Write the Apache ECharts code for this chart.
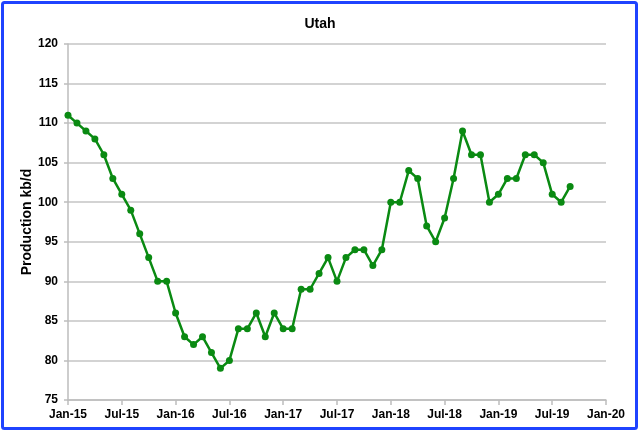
<!DOCTYPE html>
<html>
<head>
<meta charset="utf-8">
<script src="https://cdn.jsdelivr.net/npm/echarts@6/dist/echarts.min.js"></script>
<style>html,body{margin:0;padding:0;background:#fff;}#c{width:640px;height:433px;}</style>
</head>
<body>
<div id="c"></div>
<script>
const months = [
  'Jan-15','Feb-15','Mar-15','Apr-15','May-15','Jun-15','Jul-15','Aug-15','Sep-15','Oct-15','Nov-15','Dec-15',
  'Jan-16','Feb-16','Mar-16','Apr-16','May-16','Jun-16','Jul-16','Aug-16','Sep-16','Oct-16','Nov-16','Dec-16',
  'Jan-17','Feb-17','Mar-17','Apr-17','May-17','Jun-17','Jul-17','Aug-17','Sep-17','Oct-17','Nov-17','Dec-17',
  'Jan-18','Feb-18','Mar-18','Apr-18','May-18','Jun-18','Jul-18','Aug-18','Sep-18','Oct-18','Nov-18','Dec-18',
  'Jan-19','Feb-19','Mar-19','Apr-19','May-19','Jun-19','Jul-19','Aug-19','Sep-19','Oct-19','Nov-19','Dec-19',
  'Jan-20'
];
const production = [
  111,110,109,108,106,103,101,99,96,93,90,90,
  86,83,82,83,81,79,80,84,84,86,83,86,
  84,84,89,89,91,93,90,93,94,94,92,94,
  100,100,104,103,97,95,98,103,109,106,106,100,
  101,103,103,106,106,105,101,100,102
];
const yTicks = [75,80,85,90,95,100,105,110,115,120];
const title = 'Utah';
const yName = 'Production kb/d';

const chart = echarts.init(document.getElementById('c'), null, {renderer:'canvas'});
const font = 'Liberation Sans, Arial, sans-serif';
chart.setOption({
  animation: false,
  backgroundColor: '#ffffff',
  title: {
    text: title, left: 'center', top: 12,
    textStyle: {fontFamily: font, fontWeight: 'bold', fontSize: 14, color: '#000'}
  },
  graphic: [{
    type: 'rect', silent: true,
    shape: {x: 2.5, y: 2.5, width: 634, height: 426, r: 2},
    style: {fill: 'none', stroke: '#1f43ff', lineWidth: 3}
  }],
  grid: {left: 68, right: 34, top: 44, bottom: 33},
  xAxis: {
    type: 'category', data: months, boundaryGap: false,
    axisLine: {lineStyle: {color: '#bdbdbd', width: 1.5}},
    axisTick: {show: true, interval: 5, length: 5, lineStyle: {color: '#bdbdbd', width: 1.5}},
    axisLabel: {interval: 5, margin: 9, fontFamily: font, fontWeight: 'bold', fontSize: 12, color: '#000'},
    splitLine: {show: false}
  },
  yAxis: {
    type: 'value', min: yTicks[0], max: yTicks[yTicks.length-1], interval: 5,
    name: yName, nameLocation: 'middle', nameGap: 34, nameMoveOverlap: false,
    nameTextStyle: {fontFamily: font, fontWeight: 'bold', fontSize: 14, color: '#000'},
    axisLine: {show: true, lineStyle: {color: '#bdbdbd', width: 1.5}},
    axisTick: {show: true, length: 4, lineStyle: {color: '#bdbdbd', width: 1.5}},
    axisLabel: {margin: 10, fontFamily: font, fontWeight: 'bold', fontSize: 12, color: '#000'},
    splitLine: {show: true, lineStyle: {color: '#c4c4c4', width: 1.5}}
  },
  series: [{
    type: 'line', data: production,
    symbol: 'circle', symbolSize: 7, showAllSymbol: true,
    lineStyle: {color: '#0a8a12', width: 2.5},
    itemStyle: {color: '#0a8a12'}
  }]
});
</script>
</body>
</html>
